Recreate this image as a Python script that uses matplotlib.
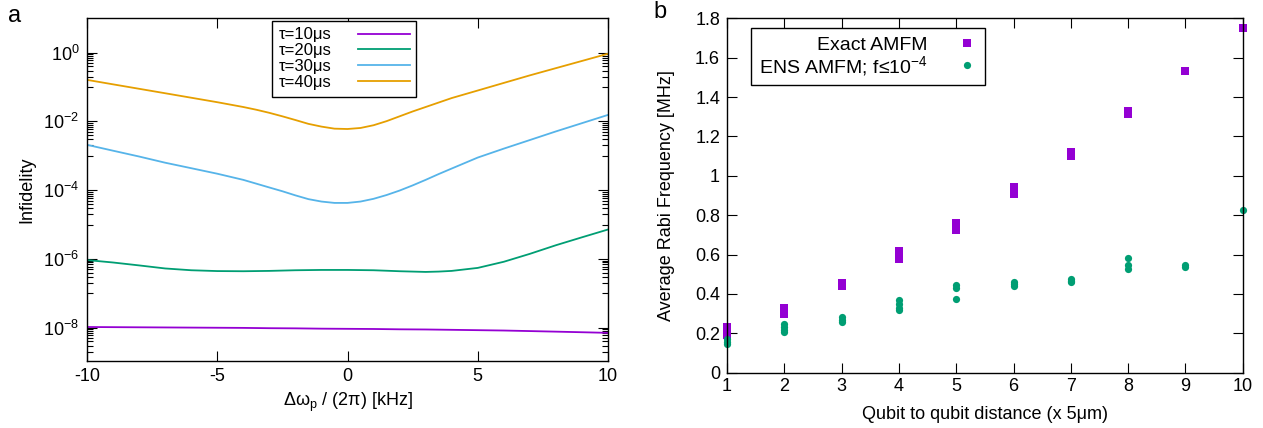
import matplotlib
matplotlib.use("Agg")
import matplotlib.pyplot as plt
from matplotlib.ticker import FixedLocator, LogFormatterMathtext, FuncFormatter, NullFormatter

plt.rcParams['font.family'] = ['Liberation Sans', 'DejaVu Sans']
plt.rcParams['font.size'] = 13
plt.rcParams['mathtext.default'] = 'regular'
plt.rcParams['axes.unicode_minus'] = False

# panel a: infidelity vs detuning (kHz)
detuning = [-10, -9, -8, -7, -6, -5, -4, -3.5, -3, -2.5, -2, -1.5, -1, -0.5,
            0, 0.5, 1, 1.5, 2, 2.5, 3, 3.5, 4, 5, 6, 7, 8, 9, 10]
inf_10us = [1.05e-8, 1.04e-8, 1.03e-8, 1.02e-8, 1.01e-8, 1.0e-8, 0.99e-8, 0.98e-8, 0.97e-8, 0.965e-8,
            0.96e-8, 0.95e-8, 0.94e-8, 0.935e-8, 0.93e-8, 0.925e-8, 0.92e-8, 0.91e-8, 0.90e-8, 0.895e-8,
            0.89e-8, 0.88e-8, 0.87e-8, 0.85e-8, 0.83e-8, 0.80e-8, 0.77e-8, 0.74e-8, 0.71e-8]
inf_20us = [9.3e-7, 7.9e-7, 6.5e-7, 5.3e-7, 4.7e-7, 4.45e-7, 4.4e-7, 4.45e-7, 4.5e-7, 4.6e-7,
            4.7e-7, 4.75e-7, 4.8e-7, 4.8e-7, 4.8e-7, 4.75e-7, 4.7e-7, 4.55e-7, 4.4e-7, 4.3e-7,
            4.2e-7, 4.3e-7, 4.5e-7, 5.5e-7, 8.3e-7, 1.41e-6, 2.51e-6, 4.27e-6, 7.2e-6]
inf_30us = [2.09e-3, 1.41e-3, 9.55e-4, 6.31e-4, 4.37e-4, 3.02e-4, 2.0e-4, 1.55e-4, 1.2e-4, 9.33e-5,
            7.08e-5, 5.5e-5, 4.68e-5, 4.27e-5, 4.27e-5, 4.68e-5, 5.62e-5, 7.24e-5, 9.77e-5, 1.38e-4,
            2.0e-4, 2.95e-4, 4.27e-4, 8.91e-4, 1.62e-3, 2.88e-3, 5.13e-3, 8.91e-3, 1.55e-2]
inf_40us = [0.162, 0.120, 0.0891, 0.0661, 0.0490, 0.0363, 0.0263, 0.0219, 0.0178, 0.0141,
            0.0110, 0.00851, 0.00708, 0.00617, 0.00603, 0.00646, 0.00776, 0.0102, 0.0141, 0.0195,
            0.0263, 0.0355, 0.0479, 0.0794, 0.132, 0.219, 0.355, 0.575, 0.933]
tau_labels = ['τ=10μs', 'τ=20μs', 'τ=30μs', 'τ=40μs']
tau_colors = ['#9400D3', '#009E73', '#56B4E9', '#E69F00']

# panel b: average Rabi frequency vs qubit distance
exact_x = [1, 1, 1, 2, 2, 2, 3, 3, 4, 4, 4, 5, 5, 5, 6, 6, 6, 7, 7, 8, 8, 9, 10]
exact_y = [0.23, 0.21, 0.19, 0.33, 0.31, 0.30, 0.455, 0.44, 0.62, 0.60, 0.58, 0.76, 0.74, 0.725,
           0.945, 0.925, 0.91, 1.12, 1.10, 1.33, 1.315, 1.53, 1.75]
ens_x = [1, 1, 1, 2, 2, 2, 2, 3, 3, 3, 4, 4, 4, 4, 5, 5, 5, 6, 6, 6, 7, 7, 7, 8, 8, 8, 9, 9, 10]
ens_y = [0.17, 0.155, 0.145, 0.245, 0.23, 0.215, 0.205, 0.285, 0.27, 0.26, 0.37, 0.35, 0.33, 0.32,
         0.445, 0.43, 0.374, 0.46, 0.45, 0.44, 0.475, 0.465, 0.46, 0.583, 0.545, 0.525, 0.545, 0.535, 0.825]

W, H = 1263, 428
fig = plt.figure(figsize=(W / 100, H / 100), dpi=100)

def px_axes(l, t, r, b):
    return fig.add_axes([l / W, 1 - b / H, (r - l) / W, (b - t) / H])

def style(ax):
    ax.tick_params(which='both', direction='in', top=True, right=True, colors='black')
    ax.tick_params(which='major', length=7.2, width=0.8)
    ax.tick_params(which='minor', length=4.5, width=0.8)
    for s in ax.spines.values():
        s.set_linewidth(1.0)

# ---- panel a ----
ax1 = px_axes(87, 18.3, 608, 360.7)
for y, lab, c in zip([inf_10us, inf_20us, inf_30us, inf_40us], tau_labels, tau_colors):
    ax1.plot(detuning, y, color=c, lw=1.3, label=lab)
ax1.set_yscale('log')
ax1.set_xlim(-10, 10)
ax1.set_ylim(1.1e-9, 10)
ax1.set_xticks([-10, -5, 0, 5, 10])
ax1.yaxis.set_major_locator(FixedLocator([1e-8, 1e-6, 1e-4, 1e-2, 1]))
ax1.yaxis.set_major_formatter(LogFormatterMathtext())
minors = [k * 10.0 ** e for e in [-9, -7, -5, -3, -1] for k in range(1, 10)]
ax1.yaxis.set_minor_locator(FixedLocator(minors))
ax1.yaxis.set_minor_formatter(NullFormatter())
style(ax1)
ax1.tick_params(axis='x', pad=5.5)
ax1.tick_params(axis='y', pad=5.5)
ax1.set_xlabel('Δω$_{p}$ / (2π) [kHz]')
ax1.xaxis.set_label_coords(0.5, -0.0885)
ax1.set_ylabel('Infidelity')
ax1.yaxis.set_label_coords(-0.1, 0.5)
leg1 = ax1.legend(loc='upper left', bbox_to_anchor=((271.7 - 87) / 521, (360.7 - 20.7) / 342.4),
                  borderaxespad=0, markerfirst=False, frameon=True, fancybox=False,
                  edgecolor='black', framealpha=1, handlelength=3.1, handletextpad=1.6,
                  borderpad=0.4, labelspacing=0.05, fontsize=12)
leg1.get_frame().set_linewidth(1.0)

# ---- panel b ----
ax2 = px_axes(727, 18.3, 1242.7, 372.7)
ax2.plot(exact_x, exact_y, linestyle='none', marker='s', ms=5.3, color='#9400D3',
         markeredgewidth=0, clip_on=False, label='Exact AMFM')
ax2.plot(ens_x, ens_y, linestyle='none', marker='o', ms=5.2, color='#009E73',
         markeredgewidth=0, clip_on=False, label='ENS AMFM; f≤10$^{-4}$')
ax2.set_xlim(1, 10)
ax2.set_ylim(0, 1.8)
ax2.set_xticks(range(1, 11))
ax2.set_yticks([0, 0.2, 0.4, 0.6, 0.8, 1.0, 1.2, 1.4, 1.6, 1.8])
ax2.yaxis.set_major_formatter(FuncFormatter(lambda v, p: '%g' % round(v, 2)))
style(ax2)
ax2.tick_params(axis='x', pad=4)
ax2.tick_params(axis='y', pad=5)
ax2.set_xlabel('Qubit to qubit distance (x 5μm)')
ax2.xaxis.set_label_coords(0.5, -0.093)
ax2.set_ylabel('Average Rabi Frequency [MHz]')
ax2.yaxis.set_label_coords(-0.101, 0.5)
leg2 = ax2.legend(loc='upper left', bbox_to_anchor=((751 - 727) / 515.7, (372.7 - 28.3) / 354.4),
                  borderaxespad=0, markerfirst=False, frameon=True, fancybox=False,
                  edgecolor='black', framealpha=1, handlelength=1.1, handletextpad=1.45,
                  borderpad=0.4, labelspacing=0.0, numpoints=1, fontsize=14)
leg2.get_frame().set_linewidth(1.0)

fig.text(15 / W, 1 - 16 / H, 'a', fontsize=17, ha='center', va='center')
fig.text(660 / W, 1 - 12 / H, 'b', fontsize=17, ha='center', va='center')

fig.savefig('out.png', dpi=100)
